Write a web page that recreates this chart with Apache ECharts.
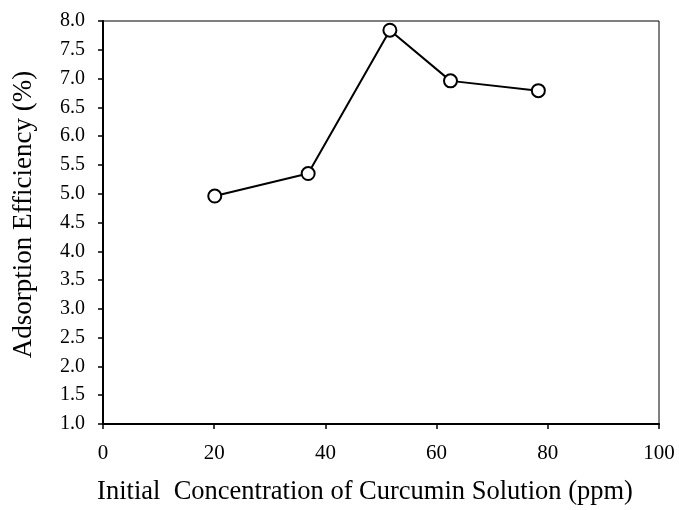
<!DOCTYPE html>
<html>
<head>
<meta charset="utf-8">
<script src="https://cdn.jsdelivr.net/npm/echarts@6/dist/echarts.min.js"></script>
<style>
  html, body { margin: 0; padding: 0; background: #fff; }
  #chart { width: 679px; height: 510px; }
</style>
</head>
<body>
<div id="chart"></div>
<script>
// concentration (ppm) and efficiency (%)
const concentration = [20.1, 36.9, 51.6, 62.5, 78.3];
const efficiency = [4.96, 5.35, 7.84, 6.96, 6.79];

const points = concentration.map((c, i) => [c, efficiency[i]]);
const font = 'Liberation Serif';

var chart = echarts.init(document.getElementById('chart'));
chart.setOption({
    animation: false,
    grid: {
        left: 103, right: 20, top: 21, bottom: 86,
        outerBoundsMode: 'none',
        show: true, borderColor: '#000', borderWidth: 1
    },
    xAxis: {
        type: 'value',
        min: 0, max: 100, interval: 20,
        name: 'Initial  Concentration of Curcumin Solution (ppm)',
        nameLocation: 'middle',
        nameGap: 55,
        nameTextStyle: { fontFamily: font, fontSize: 26.5, color: '#000', padding: [0, 32, 0, 0] },
        axisLine: { show: true, lineStyle: { color: '#000', width: 2 } },
        axisTick: { show: true, inside: false, length: 5, lineStyle: { color: '#000', width: 1.5 } },
        axisLabel: { fontFamily: font, fontSize: 21, color: '#000', margin: 19 },
        splitLine: { show: false }
    },
    yAxis: {
        type: 'value',
        min: 1, max: 8, interval: 0.5,
        name: 'Adsorption Efficiency (%)',
        nameLocation: 'middle',
        nameGap: 66,
        nameTextStyle: { fontFamily: font, fontSize: 27, color: '#000', padding: [0, 0, 0, 16] },
        axisLine: { show: true, lineStyle: { color: '#000', width: 2 } },
        axisTick: { show: true, inside: false, length: 5, lineStyle: { color: '#000', width: 1.5 } },
        axisLabel: { fontFamily: font, fontSize: 20, color: '#000', margin: 18, formatter: v => v.toFixed(1) },
        splitLine: { show: false }
    },
    series: [{
        type: 'line',
        data: points,
        symbol: 'emptyCircle',
        symbolSize: 13,
        showAllSymbol: true,
        lineStyle: { color: '#000', width: 2 },
        itemStyle: { color: '#000', borderColor: '#000', borderWidth: 1.8 }
    }]
});
</script>
</body>
</html>
